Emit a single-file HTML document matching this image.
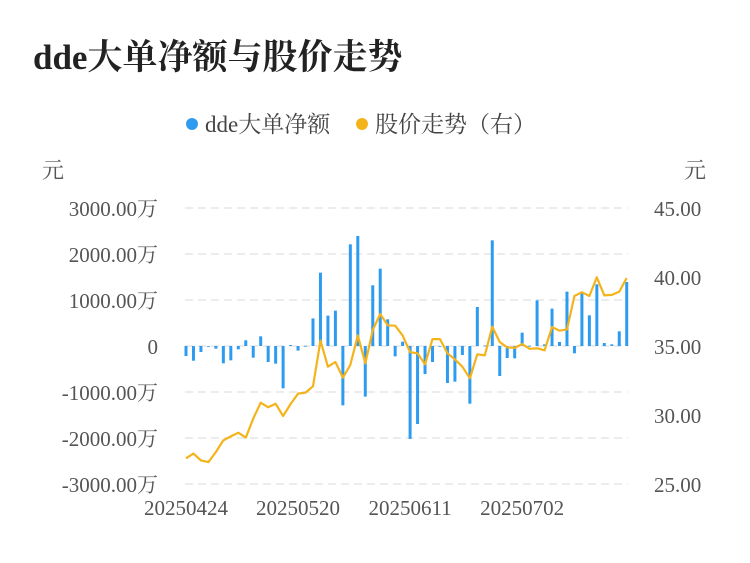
<!DOCTYPE html>
<html><head><meta charset="utf-8"><style>
body{margin:0;background:#fff;}
svg text{font-family:"Liberation Serif","Noto Serif CJK SC",serif;}
</style></head><body>
<svg id="chart" width="750" height="558" xmlns="http://www.w3.org/2000/svg">
<text x="33" y="69" font-size="35" font-weight="bold" fill="#222">dde大单净额与股价走势</text>
<g>
<g><circle cx="192" cy="124" r="6" fill="#2d9cf0"/><text x="205" y="132" font-size="23" fill="#444">dde大单净额</text></g>
<g><circle cx="362" cy="124" r="6" fill="#f5b31b"/><text x="375" y="132" font-size="23" fill="#444">股价走势（右）</text></g>
</g>
<text x="42" y="178" font-size="22" fill="#555">元</text>
<text x="684" y="178" font-size="22" fill="#555">元</text>
<g id="grid"></g><g id="bars"></g><g id="line"></g><g id="axes"></g>
</svg>
<script>
const categories=["20250424","20250520","20250611","20250702"];
const categoryIndex=[0,15,30,45];
const leftTicks=[3000,2000,1000,0,-1000,-2000,-3000];
const leftTickLabels=["3000.00万","2000.00万","1000.00万","0","-1000.00万","-2000.00万","-3000.00万"];
const rightTicks=[45,40,35,30,25];
const rightTickLabels=["45.00","40.00","35.00","30.00","25.00"];
const ddeValues=[-217,-320,-130,-15,-58,-377,-312,-72,123,-254,210,-348,-384,-920,20,-100,5,600,1594,660,768,-1290,2210,2391,-1100,1320,1681,580,-225,94,-2020,-1696,-609,-348,0,-804,-775,-196,-1254,848,10,2297,-652,-261,-268,290,5,993,36,812,87,1181,-159,1167,667,1341,65,36,319,1391];
const priceValues=[26.86,27.2,26.71,26.59,27.32,28.16,28.45,28.72,28.36,29.73,30.89,30.56,30.82,29.93,30.8,31.55,31.62,32.08,35.39,33.5,33.84,32.7,33.62,35.77,33.74,36.16,37.32,36.5,36.47,35.77,34.55,34.47,33.67,35.5,35.5,34.47,34.03,33.5,32.66,34.4,34.32,36.4,35.29,34.9,34.86,35.14,34.8,34.83,34.69,36.38,36.11,36.2,38.62,38.9,38.62,39.98,38.67,38.7,38.94,39.93];
const NS="http://www.w3.org/2000/svg";
const x0=186,step=7.47,gx1=185,gx2=628;
const yL=v=>346-v*0.046;
const yR=v=>346-(v-35)*13.8;
const xI=i=>x0+i*step;
function mk(tag,attrs,parent){const e=document.createElementNS(NS,tag);for(const k in attrs)e.setAttribute(k,attrs[k]);document.getElementById(parent).appendChild(e);return e;}
leftTicks.forEach((t,i)=>{
 const g=mk('line',{x1:gx1,x2:gx2,y1:yL(t),y2:yL(t),stroke:'#e6e6e6','stroke-width':1.5,'stroke-dasharray':'8,5'},'grid');
 
 
 const tx=mk('text',{x:158,y:yL(t)+8,'text-anchor':'end','font-size':21,fill:'#555'},'axes');
 tx.textContent=leftTickLabels[i];
 
 
});
rightTicks.forEach((t,i)=>{
 const tx=mk('text',{x:654,y:yR(t)+8,'font-size':21,fill:'#555'},'axes');
 tx.textContent=rightTickLabels[i];
 
 
});
categories.forEach((c,i)=>{
 const tx=mk('text',{x:xI(categoryIndex[i]),y:515,'text-anchor':'middle','font-size':21,fill:'#555'},'axes');
 tx.textContent=c;
 
 
});
ddeValues.forEach((v,i)=>{
 const y=Math.min(yL(v),yL(0)),h=Math.max(Math.abs(yL(v)-yL(0)),0.8);
 const r=mk('rect',{x:xI(i)-1.5,y:y,width:3,height:h,fill:'#2d9cf0'},'bars');
 
 
});
const pts=priceValues.map((v,i)=>xI(i).toFixed(1)+','+yR(v).toFixed(1)).join(' ');
const pl=mk('polyline',{points:pts,fill:'none',stroke:'#f5b31b','stroke-width':2.2,'stroke-linejoin':'round'},'line');


</script>
</body></html>
